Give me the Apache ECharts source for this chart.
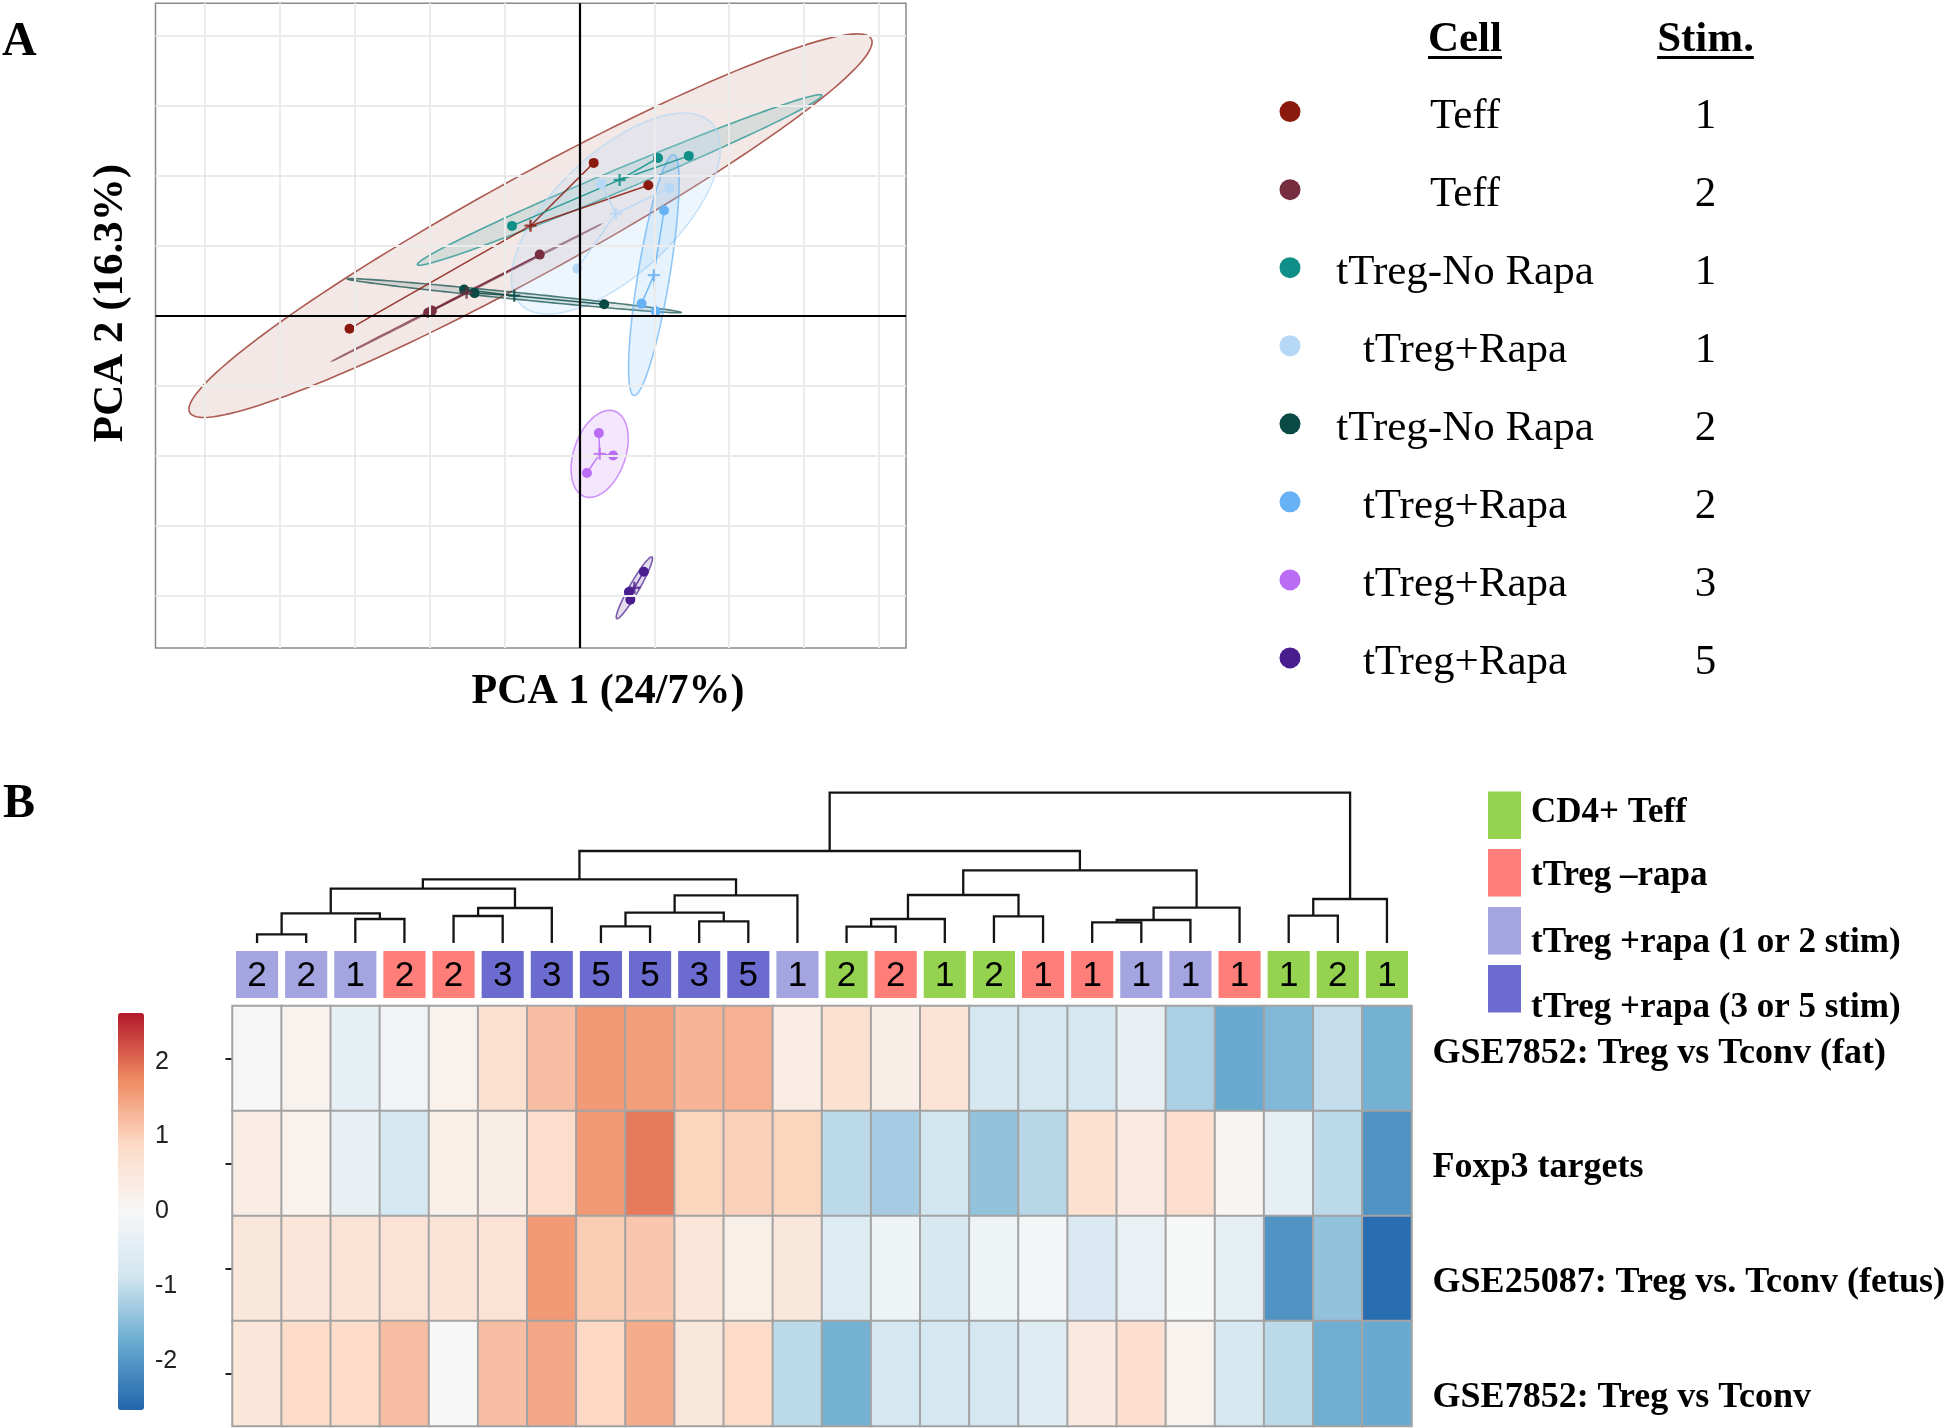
<!DOCTYPE html>
<html><head><meta charset="utf-8">
<script src="https://cdn.jsdelivr.net/npm/echarts@6/dist/echarts.min.js"></script>
<style>html,body{margin:0;padding:0;background:#fff}#c{width:1950px;height:1428px}</style>
</head><body><div id="c"></div>
<script>
// ================= DATA : panel A (PCA) =================
const groupCells  = ['Teff','Teff','tTreg-No Rapa','tTreg+Rapa','tTreg-No Rapa','tTreg+Rapa','tTreg+Rapa','tTreg+Rapa'];
const groupStims  = ['1','2','1','1','2','2','3','5'];
const groupColors = ['#8B1A0E','#772D40','#0F8F88','#B5D8F7','#0A4A44','#66B2F5','#BB6CF5','#4A1D8F'];
const pcaTeff1    = [[0.19,2.18],[0.92,1.86],[-3.07,-0.19]];
const pcaTeff2    = [[-0.53,0.87],[-1.97,0.07],[-2.02,0.04]];
const pcaNoRapa1  = [[-0.90,1.28],[1.05,2.25],[1.46,2.28]];
const pcaRapa1    = [[0.29,1.88],[1.20,1.82],[-0.03,0.67]];
const pcaNoRapa2  = [[-1.54,0.37],[-1.40,0.32],[0.33,0.16]];
const pcaRapa2    = [[1.13,1.50],[0.83,0.17],[1.02,0.06]];
const pcaRapa3    = [[0.26,-1.68],[0.45,-2.00],[0.10,-2.25]];
const pcaRapa5    = [[0.86,-3.66],[0.66,-3.95],[0.68,-4.06]];
// ellipse shape per group: major half-axis vector (PC units) and minor/major ratio
const ellipseMajor = [[4.55,2.67],[1.78,0.97],[2.70,1.21],[1.28,1.29],[2.23,-0.24],[0.265,1.72],[0.20,0.61],[0.235,0.44]];
const ellipseRatio = [0.126,0.004,0.05,0.46,0.02,0.13,0.57,0.14];
const pcaXTitle = 'PCA 1 (24/7%)';
const pcaYTitle = 'PCA 2 (16.3%)';

// ================= DATA : panel B (heatmap) =================
const sampleStim  = [2,2,1,2,2,3,3,5,5,3,5,1,2,2,1,2,1,1,1,1,1,1,2,1];
const sampleGroup = [2,2,2,1,1,3,3,3,3,3,3,2,0,1,0,0,1,1,2,2,1,0,0,0];
const annoNames   = ['CD4+ Teff','tTreg \u2013rapa','tTreg +rapa (1 or 2 stim)','tTreg +rapa (3 or 5 stim)'];
const annoColors  = ['#94D24F','#FF7E7A','#A4A4E0','#6C6BCF'];
const rowNames    = ['GSE7852: Treg vs Tconv (fat)','Foxp3 targets','GSE25087: Treg vs. Tconv (fetus)','GSE7852: Treg vs Tconv'];
const rowFat   = [0.02,0.15,-0.40,-0.15,0.20,0.70,1.20,1.60,1.55,1.30,1.35,0.35,0.70,0.30,0.65,-0.80,-0.80,-0.78,-0.35,-1.20,-1.75,-1.55,-1.00,-1.65];
const rowFoxp3 = [0.35,0.20,-0.35,-0.80,0.25,0.30,0.80,1.60,1.90,0.95,1.00,0.95,-1.05,-1.25,-0.85,-1.40,-1.10,0.70,0.40,0.75,0.10,-0.40,-1.05,-2.05];
const rowFetus = [0.50,0.55,0.60,0.65,0.60,0.65,1.60,1.05,1.10,0.55,0.25,0.50,-0.60,-0.20,-0.75,-0.20,-0.10,-0.65,-0.30,-0.02,-0.40,-2.05,-1.40,-2.55];
const rowTconv = [0.55,0.85,0.85,1.20,0.00,1.20,1.45,0.90,1.40,0.50,0.85,-1.05,-1.65,-0.80,-0.80,-0.80,-0.55,0.45,0.75,0.15,-0.75,-1.05,-1.70,-1.75];
const colorTicks = [-2,-1,0,1,2];
// dendrogram (hclust-style merges: negative = leaf position, positive = earlier merge; third = height)
const dendroMerge = [[-1,-2,8.7],[-3,-4,24],[1,2,29.7],[-5,-6,27],[4,-7,35],[3,5,54.3],[-8,-9,16.7],[-10,-11,21.7],
  [7,8,30.3],[9,-12,47.7],[6,10,63.7],[-13,-14,16.3],[12,-15,24],[-16,-17,26.7],[13,14,48],[-18,-19,20.7],
  [16,-20,23],[17,-21,35.3],[15,18,72.7],[11,19,92],[-22,-23,27.3],[21,-24,44],[20,22,150.3]];

// ================= STYLE / LAYOUT =================
const SERIF = "'Liberation Serif','Times New Roman',serif";
const SANS  = "'Liberation Sans',Arial,sans-serif";
const NARROW = "'Liberation Sans Narrow','Liberation Sans',Arial,sans-serif";
const fillAlpha = [0.10,0.10,0.12,0.24,0.12,0.16,0.16,0.15];
function rgba(hex,a){const n=parseInt(hex.slice(1),16);return `rgba(${n>>16&255},${n>>8&255},${n&255},${a})`;}

const pcaGroups = [pcaTeff1,pcaTeff2,pcaNoRapa1,pcaRapa1,pcaNoRapa2,pcaRapa2,pcaRapa3,pcaRapa5];
const centroids = pcaGroups.map(g=>[g.reduce((s,p)=>s+p[0],0)/g.length, g.reduce((s,p)=>s+p[1],0)/g.length]);
const PX = {min:-5.66,max:4.36}, PY = {min:-4.75,max:4.46};

// grid lines
const gridX=[],gridY=[];
for(let v=Math.ceil(PX.min);v<=Math.floor(PX.max);v++) if(v!==0) gridX.push({xAxis:v});
for(let v=Math.ceil(PY.min);v<=Math.floor(PY.max);v++) if(v!==0) gridY.push({yAxis:v});

// dendrogram segments
const nodeX=[],nodeH=[];
const dendroData = dendroMerge.map((m,i)=>{
  const pos = c => c<0 ? [-c,0] : [nodeX[c-1],nodeH[c-1]];
  const L=pos(m[0]), R=pos(m[1]);
  nodeX[i]=(L[0]+R[0])/2; nodeH[i]=m[2];
  return [L[0],L[1],R[0],R[1],m[2]];
});

const heatRows=[rowFat,rowFoxp3,rowFetus,rowTconv];
const heatData = heatRows.flatMap((r,ri)=>r.map((v,ci)=>[ci,ri,v]));
const sampleCats = sampleStim.map((s,i)=>'S'+(i+1));

const series=[];
// panel A gridlines + zero axes
series.push({type:'scatter',xAxisIndex:0,yAxisIndex:0,data:[],z:1,silent:true,
  markLine:{silent:true,symbol:['none','none'],label:{show:false},animation:false,
    lineStyle:{color:'#EBEBEB',width:2,type:'solid'},
    data:[...gridX,...gridY,
      {xAxis:0,lineStyle:{color:'#000',width:2.2,type:'solid'}},
      {yAxis:0,lineStyle:{color:'#000',width:2.2,type:'solid'}}]}});
// ellipses
series.push({type:'custom',xAxisIndex:0,yAxisIndex:0,z:2,silent:true,clip:true,
  data:centroids.map((c,i)=>[c[0],c[1],i]),encode:{x:0,y:1},
  renderItem:function(params,api){
    const gi=api.value(2),cx=api.value(0),cy=api.value(1);
    const c=api.coord([cx,cy]);
    const t=api.coord([cx+ellipseMajor[gi][0],cy+ellipseMajor[gi][1]]);
    const mx=t[0]-c[0],my=t[1]-c[1],r=ellipseRatio[gi];
    const px=-my*r,py=mx*r,pts=[];
    for(let k=0;k<160;k++){const a=2*Math.PI*k/160;pts.push([c[0]+Math.cos(a)*mx+Math.sin(a)*px,c[1]+Math.cos(a)*my+Math.sin(a)*py]);}
    return {type:'polygon',shape:{points:pts},style:{fill:rgba(groupColors[gi],fillAlpha[gi]),stroke:rgba(groupColors[gi],0.7),lineWidth:1.6}};
  }});
// star lines
const starData=[];
pcaGroups.forEach((g,i)=>g.forEach(p=>starData.push({coords:[p,centroids[i]],lineStyle:{color:groupColors[i]}})));
series.push({type:'lines',coordinateSystem:'cartesian2d',xAxisIndex:0,yAxisIndex:0,z:3,silent:true,
  lineStyle:{width:1.5,opacity:0.85},data:starData});
// points
pcaGroups.forEach((g,i)=>series.push({type:'scatter',name:groupCells[i]+' '+groupStims[i],xAxisIndex:0,yAxisIndex:0,z:4,
  symbolSize:10,itemStyle:{color:groupColors[i],opacity:1},data:g}));
// centroids
series.push({type:'scatter',xAxisIndex:0,yAxisIndex:0,z:5,silent:true,symbol:'path://M4,0h2v4h4v2h-4v4h-2v-4h-4v-2h4z',symbolSize:12,
  data:centroids.map((c,i)=>({value:c,itemStyle:{color:groupColors[i]}}))});

// dendrogram
series.push({type:'custom',xAxisIndex:1,yAxisIndex:1,silent:true,data:dendroData,encode:{x:[0,2],y:[1,3,4]},
  renderItem:function(params,api){
    const xl=api.value(0),hl=api.value(1),xr=api.value(2),hr=api.value(3),h=api.value(4);
    return {type:'polyline',shape:{points:[api.coord([xl,hl]),api.coord([xl,h]),api.coord([xr,h]),api.coord([xr,hr])]},
      style:{stroke:'#141414',lineWidth:2.3,fill:null}};
  }});
// column annotation
series.push({type:'custom',xAxisIndex:2,yAxisIndex:2,silent:true,
  data:sampleStim.map((s,i)=>[i,0.5,s,sampleGroup[i]]),encode:{x:0,y:1},
  renderItem:function(params,api){
    const p=api.coord([api.value(0),0.5]);
    const w=api.size([1,0])[0]-7, h=api.size([0,1])[1];
    return {type:'group',children:[
      {type:'rect',shape:{x:p[0]-w/2,y:p[1]-h/2,width:w,height:h},style:{fill:annoColors[api.value(3)]}},
      {type:'text',x:p[0],y:p[1]+2,style:{text:String(api.value(2)),font:`35px ${SANS}`,fill:'#000',align:'center',verticalAlign:'middle',textAlign:'center',textVerticalAlign:'middle'}}
    ]};
  }});
// heatmap
series.push({type:'heatmap',xAxisIndex:3,yAxisIndex:3,data:heatData,
  itemStyle:{borderColor:'#A3A3A3',borderWidth:2},emphasis:{disabled:true}});
const heatSeriesIndex = series.length-1;

// ================= GRAPHIC TEXT =================
const G=[];
G.push({type:'text',x:2,y:43,style:{text:'A',font:`bold 48px ${SERIF}`,fill:'#000',textVerticalAlign:'middle'}});
G.push({type:'text',x:3,y:805,style:{text:'B',font:`bold 48px ${SERIF}`,fill:'#000',textVerticalAlign:'middle'}});
G.push({type:'text',x:608,y:692,style:{text:pcaXTitle,font:`bold 42px ${SERIF}`,fill:'#000',textAlign:'center',textVerticalAlign:'middle'}});
G.push({type:'text',x:111,y:303,rotation:Math.PI/2,style:{text:pcaYTitle,font:`bold 43px ${SERIF}`,fill:'#000',textAlign:'center',textVerticalAlign:'middle'}});
// legend A
const mctx=document.createElement('canvas').getContext('2d');
function tw(t,f){mctx.font=f;return mctx.measureText(t).width;}
const hdrFont=`bold 43px ${SERIF}`;
[['Cell',1465],['Stim.',1705.5]].forEach(([t,x])=>{
  G.push({type:'text',x:x,y:40,style:{text:t,font:hdrFont,fill:'#000',textAlign:'center',textVerticalAlign:'middle'}});
  const w=tw(t,hdrFont);
  G.push({type:'rect',shape:{x:x-w/2,y:56,width:w,height:3},style:{fill:'#000'}});
});
groupCells.forEach((cell,i)=>{
  const y=111.6+i*78.05;
  G.push({type:'circle',shape:{cx:1290,cy:y,r:10.5},style:{fill:groupColors[i]}});
  G.push({type:'text',x:1465,y:y+5,style:{text:cell,font:`43px ${SERIF}`,fill:'#000',textAlign:'center',textVerticalAlign:'middle'}});
  G.push({type:'text',x:1705.5,y:y+5,style:{text:groupStims[i],font:`43px ${SERIF}`,fill:'#000',textAlign:'center',textVerticalAlign:'middle'}});
});
// legend B
const annoRectY=[791.5,849,907,965], annoTextY=[812.5,876,943,1008];
annoNames.forEach((n,i)=>{
  G.push({type:'rect',shape:{x:1488,y:annoRectY[i],width:33,height:47.5},style:{fill:annoColors[i]}});
  G.push({type:'text',x:1531,y:annoTextY[i],style:{text:n,font:`bold 35px ${SERIF}`,fill:'#000',textVerticalAlign:'middle'}});
});
// row labels
const rowLabelY=[1054,1168,1283,1398];
rowNames.forEach((n,i)=>G.push({type:'text',x:1432.6,y:rowLabelY[i],style:{text:n,font:`bold 36px ${SERIF}`,fill:'#000',textVerticalAlign:'middle'}}));

const hidden={show:false};
const option={
  animation:false,backgroundColor:'#fff',
  grid:[
    {left:155.5,top:3.3,width:750.5,height:644.7,show:true,borderColor:'#8a8a8a',borderWidth:1.5,backgroundColor:'transparent'},
    {left:232.5,top:792.7,width:1179,height:150.3},
    {left:232.5,top:951,width:1179,height:47},
    {left:232.5,top:1006,width:1179,height:420},
    {left:118,top:1013,width:26,height:397}
  ],
  xAxis:[
    {type:'value',gridIndex:0,min:PX.min,max:PX.max,axisLine:hidden,axisTick:hidden,axisLabel:hidden,splitLine:hidden},
    {type:'value',gridIndex:1,min:0.5,max:24.5,axisLine:hidden,axisTick:hidden,axisLabel:hidden,splitLine:hidden},
    {type:'category',gridIndex:2,data:sampleCats,axisLine:hidden,axisTick:hidden,axisLabel:hidden,splitLine:hidden},
    {type:'category',gridIndex:3,data:sampleCats,axisLine:hidden,axisTick:hidden,axisLabel:hidden,splitLine:hidden},
    {type:'value',gridIndex:4,min:0,max:1,axisLine:hidden,axisTick:hidden,axisLabel:hidden,splitLine:hidden}
  ],
  yAxis:[
    {type:'value',gridIndex:0,min:PY.min,max:PY.max,axisLine:hidden,axisTick:hidden,axisLabel:hidden,splitLine:hidden},
    {type:'value',gridIndex:1,min:0,max:150.3,axisLine:hidden,axisTick:hidden,axisLabel:hidden,splitLine:hidden},
    {type:'value',gridIndex:2,min:0,max:1,axisLine:hidden,axisTick:hidden,axisLabel:hidden,splitLine:hidden},
    {type:'category',gridIndex:3,data:rowNames,inverse:true,axisLine:hidden,axisLabel:hidden,splitLine:hidden,
      axisTick:{show:true,alignWithLabel:true,length:7,lineStyle:{color:'#222',width:2}}},
    {type:'value',gridIndex:4,min:-2.65,max:2.65,position:'right',axisLine:hidden,axisTick:hidden,splitLine:hidden,
      axisLabel:{show:true,customValues:colorTicks,margin:11,align:'left',fontSize:25,fontFamily:NARROW,color:'#222'}}
  ],
  visualMap:{type:'continuous',min:-2.65,max:2.65,seriesIndex:heatSeriesIndex,calculable:false,show:true,
    left:118,top:1013,itemWidth:26,itemHeight:397,padding:0,text:null,hoverLink:false,
    inRange:{color:['#2166AC','#67A9CF','#D1E5F0','#F7F7F7','#FDDBC7','#EF8A62','#B2182B']}},
  series:series,
  graphic:{elements:G}
};
const chart=echarts.init(document.getElementById('c'),null,{renderer:'canvas',width:1950,height:1428});
chart.setOption(option);
</script></body></html>
